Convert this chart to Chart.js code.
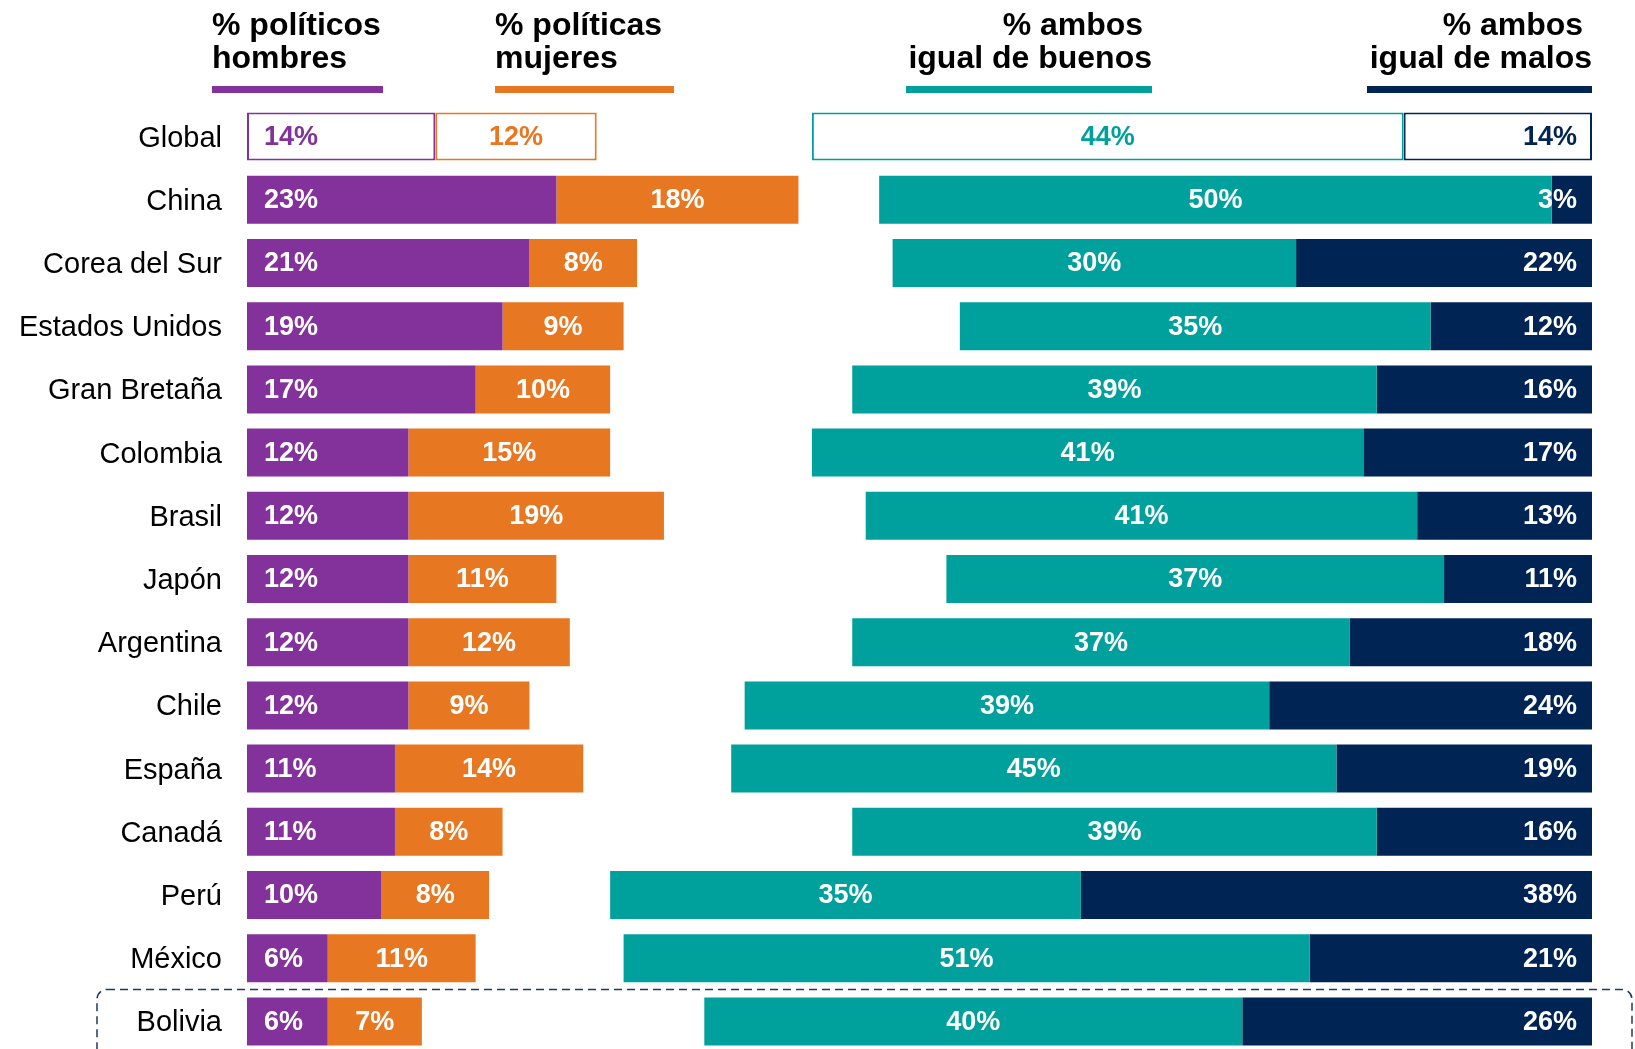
<!DOCTYPE html>
<html>
<head>
<meta charset="utf-8">
<script src="https://cdn.jsdelivr.net/npm/chart.js@4.4.1/dist/chart.umd.min.js"></script>
<style>
  html, body { margin: 0; padding: 0; background: #fff; overflow: hidden; }
  #wrap { width: 1635px; height: 1060px; }
</style>
</head>
<body>
<div id="wrap"><canvas id="chart" width="1635" height="1060"></canvas></div>
<script>
const countries = ["Global", "China", "Corea del Sur", "Estados Unidos", "Gran Bretaña", "Colombia", "Brasil", "Japón", "Argentina", "Chile", "España", "Canadá", "Perú", "México", "Bolivia"];
const hombres = [14, 23, 21, 19, 17, 12, 12, 12, 12, 12, 11, 11, 10, 6, 6];
const mujeres = [12, 18, 8, 9, 10, 15, 19, 11, 12, 9, 14, 8, 8, 11, 7];
const buenos = [44, 50, 30, 35, 39, 41, 41, 37, 37, 39, 45, 39, 35, 51, 40];
const malos = [14, 3, 22, 12, 16, 17, 13, 11, 18, 24, 19, 16, 38, 21, 26];

const headerTitles = [
  ["% políticos", "hombres"],
  ["% políticas", "mujeres"],
  ["% ambos ", "igual de buenos"],
  ["% ambos ", "igual de malos"],
];

const PURPLE = "#83329B";
const ORANGE = "#E87722";
const TEAL = "#00A09D";
const NAVY = "#002454";
const FONT = 'Arial, "Liberation Sans", sans-serif';

// Floating bars: left group from 0, right group anchored at 100
const hombresBars = hombres.map((v) => [0, v]);
const mujeresBars = mujeres.map((v, i) => [hombres[i], hombres[i] + v]);
const buenosBars = buenos.map((v, i) => [100 - malos[i] - v, 100 - malos[i]]);
const malosBars = malos.map((v) => [100 - v, 100]);

function makeDataset(label, bars, values, color, align) {
  return {
    label: label,
    data: bars,
    values: values,
    align: align,
    color: color,
    grouped: false,
    barPercentage: 0.76,
    categoryPercentage: 1,
    backgroundColor: (c) => (c.dataIndex === 0 ? "#ffffff" : color),
    borderColor: color,
    borderWidth: (c) => (c.dataIndex === 0 ? 2 : 0),
    borderSkipped: false,
  };
}

// Value labels inside bars
const barLabels = {
  id: "barLabels",
  afterDatasetsDraw(chart) {
    const ctx = chart.ctx;
    ctx.save();
    ctx.font = "bold 27px " + FONT;
    ctx.textBaseline = "middle";
    chart.data.datasets.forEach((ds, i) => {
      const meta = chart.getDatasetMeta(i);
      meta.data.forEach((bar, j) => {
        const left = Math.min(bar.x, bar.base);
        const right = Math.max(bar.x, bar.base);
        const text = ds.values[j] + "%";
        ctx.fillStyle = j === 0 ? ds.color : "#ffffff";
        let x;
        if (ds.align === "start") {
          ctx.textAlign = "left";
          x = left + 17;
        } else if (ds.align === "end") {
          ctx.textAlign = "right";
          x = right - 15;
        } else {
          ctx.textAlign = "center";
          x = (left + right) / 2;
        }
        ctx.fillText(text, x, bar.y + 1);
      });
    });
    ctx.restore();
  },
};

// Column headers with coloured underlines, and the dashed box round Bolivia
const decorations = {
  id: "decorations",
  afterDraw(chart) {
    const ctx = chart.ctx;
    const cols = [
      { x0: 212, x1: 383, align: "left", color: PURPLE },
      { x0: 495, x1: 674, align: "left", color: ORANGE },
      { x0: 906, x1: 1152, align: "right", color: TEAL },
      { x0: 1367, x1: 1592, align: "right", color: NAVY },
    ];
    ctx.save();
    ctx.font = "bold 32px " + FONT;
    ctx.fillStyle = "#000000";
    ctx.textBaseline = "alphabetic";
    cols.forEach((c, i) => {
      ctx.textAlign = c.align;
      const tx = c.align === "left" ? c.x0 : c.x1;
      ctx.fillText(headerTitles[i][0], tx, 35);
      ctx.fillText(headerTitles[i][1], tx, 68);
      ctx.fillStyle = c.color;
      ctx.fillRect(c.x0, 86, c.x1 - c.x0, 7);
      ctx.fillStyle = "#000000";
    });

    const yc = chart.scales.y.getPixelForValue(countries.length - 1);
    ctx.strokeStyle = "#203864";
    ctx.lineWidth = 1.5;
    ctx.setLineDash([8, 5]);
    ctx.beginPath();
    ctx.roundRect(97, yc - 32, 1632 - 97, 80, 10);
    ctx.stroke();
    ctx.restore();
  },
};

new Chart(document.getElementById("chart"), {
  type: "bar",
  data: {
    labels: countries,
    datasets: [
      makeDataset("% políticos hombres", hombresBars, hombres, PURPLE, "start"),
      makeDataset("% políticas mujeres", mujeresBars, mujeres, ORANGE, "center"),
      makeDataset("% ambos igual de buenos", buenosBars, buenos, TEAL, "center"),
      makeDataset("% ambos igual de malos", malosBars, malos, NAVY, "end"),
    ],
  },
  options: {
    indexAxis: "y",
    responsive: false,
    animation: false,
    layout: { padding: { top: 105, right: 43, bottom: 7, left: 0 } },
    plugins: {
      legend: { display: false },
      tooltip: { enabled: false },
    },
    scales: {
      x: { type: "linear", min: 0, max: 100, display: false },
      y: {
        grid: { display: false, drawTicks: false },
        border: { display: false },
        ticks: { color: "#000000", font: { family: FONT, size: 29 }, padding: 25, labelOffset: 2 },
        afterFit: (scale) => {
          scale.width = 247;
          scale.paddingTop = 0;
          scale.paddingBottom = 0;
        },
      },
    },
  },
  plugins: [barLabels, decorations],
});
</script>
</body>
</html>
